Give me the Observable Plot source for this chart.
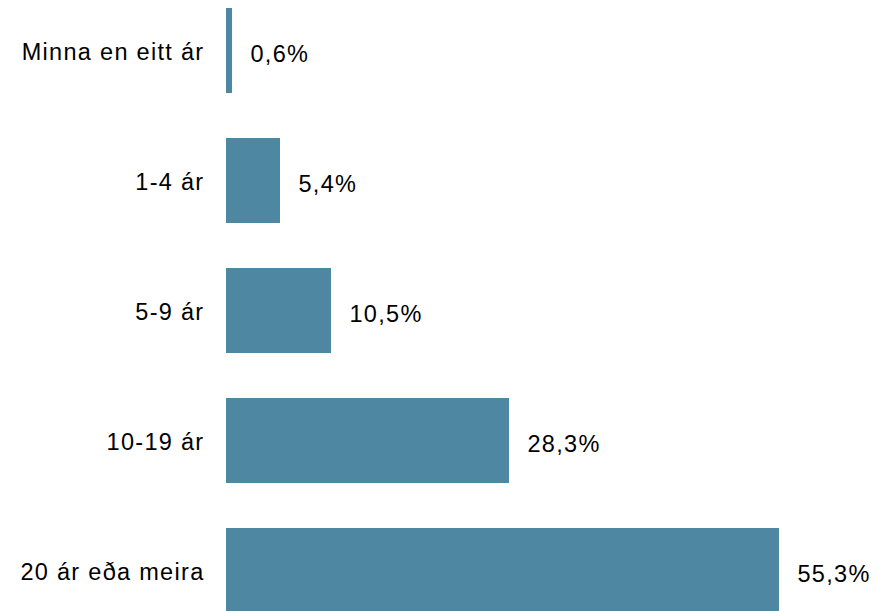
<!DOCTYPE html>
<html>
<head>
<meta charset="utf-8">
<script src="https://cdn.jsdelivr.net/npm/d3@7"></script>
<script src="https://cdn.jsdelivr.net/npm/@observablehq/plot@0.6"></script>
<style>
  html, body { margin: 0; padding: 0; background: #fff; }
  #chart text { letter-spacing: 1.3px; }
</style>
</head>
<body>
<div id="chart"></div>
<script>
const categories = ["Minna en eitt ár", "1-4 ár", "5-9 ár", "10-19 ár", "20 ár eða meira"];
const values = [0.6, 5.4, 10.5, 28.3, 55.3];
const valueLabels = ["0,6%", "5,4%", "10,5%", "28,3%", "55,3%"];

const data = categories.map((c, i) => ({cat: c, value: values[i], label: valueLabels[i]}));

const chart = Plot.plot({
  width: 878,
  height: 611,
  marginLeft: 226,
  marginRight: 99,
  marginTop: 7,
  marginBottom: 0,
  style: {fontFamily: "'Liberation Sans', Arial, sans-serif", fontSize: "23.5px", color: "#000", background: "#fff"},
  x: {domain: [0, 55.3], axis: null},
  y: {domain: categories, range: [7, 613.5], paddingInner: 0.3435, paddingOuter: 0, axis: null},
  marks: [
    Plot.barX(data, {x: "value", y: "cat", fill: "#4e87a1"}),
    Plot.text(data, {x: "value", y: "cat", text: "label", textAnchor: "start", dx: 18, dy: 3, fill: "#000", fontSize: 23.5}),
    Plot.text(data, {x: 0, y: "cat", text: "cat", textAnchor: "end", dx: -22, dy: 1, fill: "#000", fontSize: 23.5})
  ]
});
document.getElementById("chart").appendChild(chart);
</script>
</body>
</html>
